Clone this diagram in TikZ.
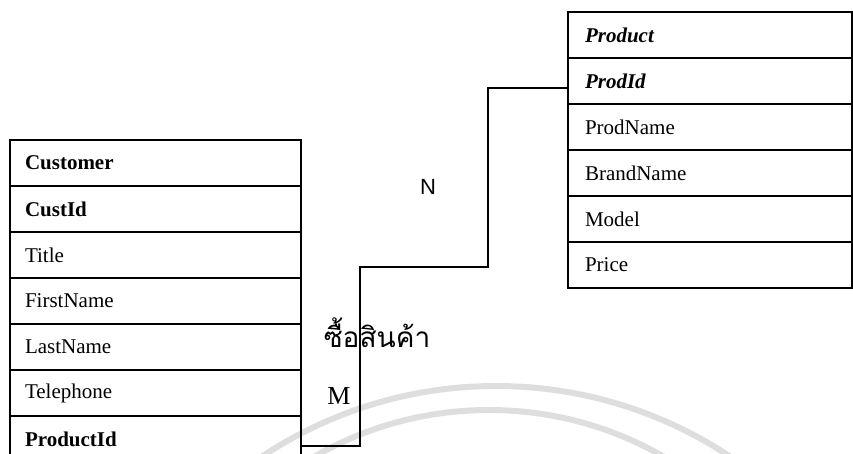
\documentclass[tikz,border=0pt]{standalone}
\usepackage{fontspec}
\setmainfont{Liberation Serif}
\newfontfamily\labelsans{Liberation Sans}
\newfontfamily\thaifont[Script=Thai]{Loma}
\usetikzlibrary{positioning}

\begin{document}
\begin{tikzpicture}[
    x=1pt, y=1pt,
    node distance=0pt,
    field/.style={rectangle, draw, line width=1.2pt, outer sep=0pt, text width=261pt, inner xsep=15pt, inner ysep=0pt, minimum height=46pt, align=left, font=\fontsize{21}{25}\selectfont},
    prodfield/.style={field, text width=250pt, inner xsep=17pt},
    link/.style={line width=1.8pt},
    mark ring/.style={draw=black!13, line width=6pt},
    card/.style={inner sep=0pt}
]
\useasboundingbox (0,0) rectangle (853,454);

% faint watermark rings
\draw[mark ring] (496,-355) circle[radius=423];
\draw[mark ring] (489,-306) circle[radius=350];

% Customer
\node[field, anchor=north west] (cust1) at (10,314) {\textbf{Customer}};
\node[field, below=of cust1] (cust2) {\textbf{CustId}};
\node[field, below=of cust2] (cust3) {Title};
\node[field, below=of cust3] (cust4) {FirstName};
\node[field, below=of cust4] (cust5) {LastName};
\node[field, below=of cust5] (cust6) {Telephone};
\node[field, below=of cust6] (cust7) {\textbf{ProductId}};

% Product
\node[prodfield, anchor=north west] (prod1) at (568,442) {\textbf{\textit{Product}}};
\node[prodfield, below=of prod1] (prod2) {\textbf{\textit{ProdId}}};
\node[prodfield, below=of prod2] (prod3) {ProdName};
\node[prodfield, below=of prod3] (prod4) {BrandName};
\node[prodfield, below=of prod4] (prod5) {Model};
\node[prodfield, below=of prod5] (prod6) {Price};

% relationship
\coordinate (jogL) at (360,187);
\coordinate (jogR) at (488,187);
\draw[link] ([yshift=-7pt]cust7.east) -| (jogL) -- (jogR) |- ([yshift=-7pt]prod2.west);

\node[card, font=\labelsans\fontsize{22}{26}\selectfont] (lblN) at (428,267) {N};
\node[card, font=\thaifont\fontsize{28}{34}\selectfont] (lblRel) at (377,121) {ซื้อสินค้า};
\node[card, font=\fontsize{26}{30}\selectfont] (lblM) at (339,58) {M};

\end{tikzpicture}
\end{document}
